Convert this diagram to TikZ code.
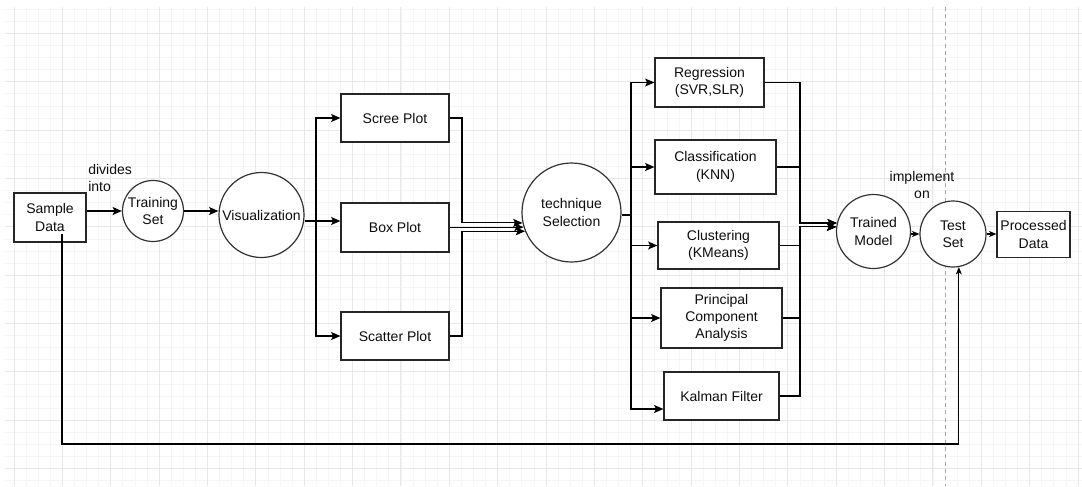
\documentclass[tikz,border=0pt]{standalone}
\usepackage{fontspec}
\setmainfont{Liberation Sans}
\usetikzlibrary{arrows.meta}
% one screen pixel
\newcommand{\pxu}{0.75pt}

\begin{document}
\begin{tikzpicture}[x=0.75pt, y=-0.75pt,
  every node/.style={font=\fontsize{10.5}{13}\selectfont, text=black!95},
  rectbox/.style={draw=black!85, line width=0.9pt, fill=white, align=center, inner sep=0pt},
  roundnode/.style={circle, draw=black!80, line width=0.9pt, fill=white, align=center, inner sep=0pt},
  conn/.style={draw=black, line width=0.85pt},
  arr/.style={conn, -{Stealth[length=7pt, width=6pt, inset=1.5pt]}},
  smallarr/.style={conn, -{Stealth[length=5.5pt, width=4.5pt, inset=1.5pt]}},
  minorgrid/.style={draw=black!4, line width=0.5pt},
  majorgrid/.style={draw=black!9, line width=0.6pt},
]
\useasboundingbox (0,0) rectangle (1082,486);
\fill[white] (0,0) rectangle (1082,486);

% background grid
\begin{scope}
  \clip (5,7) rectangle (1082,486);
  \foreach \i in {-1,...,90} {\draw[minorgrid] ({14+12.09*\i},0) -- ({14+12.09*\i},486);}
  \foreach \j in {-3,...,38} {\draw[minorgrid] (0,{33.3+12.09*\j}) -- (1082,{33.3+12.09*\j});}
  \foreach \i in {0,...,22} {\draw[majorgrid] ({14+48.36*\i},0) -- ({14+48.36*\i},486);}
  \foreach \j in {-1,...,10} {\draw[majorgrid] (0,{33.3+48.36*\j}) -- (1082,{33.3+48.36*\j});}
\end{scope}

% page break marker
\draw[draw=black!35, line width=0.6pt, dash pattern=on 3pt off 2.5pt] (945.5,7) -- (945.5,486);

% nodes
\node[rectbox, minimum width=72*\pxu, minimum height=49*\pxu] (sd) at (50,217.5) {Sample\\Data};
\node[roundnode, minimum size=61*\pxu] (ts) at (153,211) {Training\\Set};
\node[roundnode, minimum size=85*\pxu] (vis) at (261.5,215) {Visualization};

\node[rectbox, minimum width=108*\pxu, minimum height=48*\pxu] (scree) at (395,118) {Scree Plot};
\node[rectbox, minimum width=108*\pxu, minimum height=49*\pxu] (boxp) at (395,227.5) {Box Plot};
\node[rectbox, minimum width=108*\pxu, minimum height=48*\pxu] (scat) at (395,336) {Scatter Plot};

\node[roundnode, minimum size=99*\pxu] (tech) at (571.5,212.5) {technique\\Selection};

\node[rectbox, minimum width=109*\pxu, minimum height=49*\pxu] (reg) at (709.5,82.5) {Regression\\(SVR,SLR)};
\node[rectbox, minimum width=121*\pxu, minimum height=54*\pxu] (cls) at (715.5,167) {Classification\\(KNN)};
\node[rectbox, minimum width=121*\pxu, minimum height=47*\pxu] (clu) at (718.5,245.5) {Clustering\\(KMeans)};
\node[rectbox, minimum width=121*\pxu, minimum height=60*\pxu] (pca) at (721.5,318) {Principal\\Component\\Analysis};
\node[rectbox, minimum width=115*\pxu, minimum height=48*\pxu] (kal) at (721.5,396) {Kalman Filter};

\node[roundnode, minimum size=74*\pxu] (tm) at (873.5,231.5) {Trained\\Model};
\node[roundnode, minimum size=66*\pxu] (test) at (953,234) {Test\\Set};
\node[rectbox, minimum width=73*\pxu, minimum height=46*\pxu] (pd) at (1033.5,234.5) {Processed\\Data};

% labels
\node[anchor=west, align=left, inner sep=0pt] (lblsplit) at (88,178) {divides\\into};
\node[align=center, inner sep=0pt] (lblimpl) at (922,185) {implement\\on};

% routing points
\coordinate (vbus) at (316,221);
\coordinate (pjoin) at (462,0);
\coordinate (tbus) at (631,215);
\coordinate (rbus) at (800,0);
\coordinate (lowrow) at (0,444);

% connectors
\draw[arr] (sd.east |- ts.west) -- (ts.west);
\draw[arr] (ts.east) -- (ts.east -| vis.west);

\draw[conn] (vis.east |- vbus) -- (vbus);
\draw[arr] (vbus) |- (scree.west);
\draw[arr] (vbus) -- (boxp.west |- vbus);
\draw[arr] (vbus) |- (scat.west);

\draw[arr] (scree.east) -| (pjoin |- tech.192) -- (tech.192);
\draw[arr] (boxp.east |- tech.197) -- (tech.197);
\draw[arr] (scat.east) -| (pjoin |- tech.202) -- (tech.202);

\draw[conn] (tech.east |- tbus) -- (tbus);
\draw[arr] (tbus) |- (reg.west);
\draw[arr] (tbus) |- (cls.west);
\draw[arr] (tbus) |- (clu.west);
\draw[arr] (tbus) |- (pca.west);
\draw[arr] (tbus) |- ([yshift=-9.75pt]kal.west);

\draw[arr] (reg.east) -| (rbus |- tm.167) -- (tm.167);
\draw[arr] (cls.east) -| (rbus |- tm.167) -- (tm.167);
\draw[arr] (clu.east) -| (rbus |- tm.173) -- (tm.173);
\draw[arr] (pca.east) -| (rbus |- tm.173) -- (tm.173);
\draw[arr] (kal.east) -| (rbus |- tm.173) -- (tm.173);

\draw[smallarr] (tm.east |- test.west) -- (test.west);
\draw[smallarr] (test.east) -- (test.east -| pd.west);

\draw[smallarr] ([xshift=9pt, yshift=6.75pt]sd.south) |- (test.280 |- lowrow) -- (test.280);
\end{tikzpicture}
\end{document}
